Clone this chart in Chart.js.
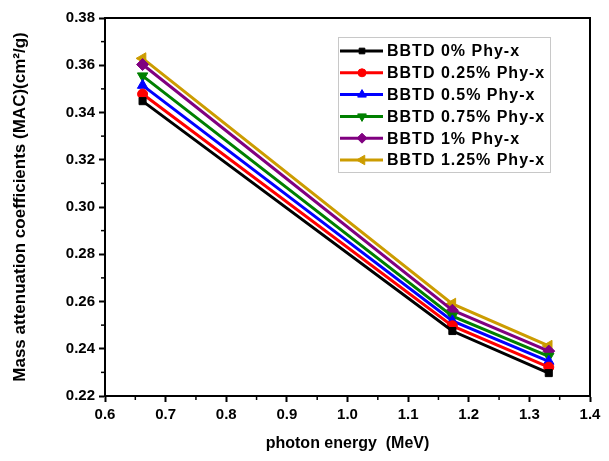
<!DOCTYPE html>
<html>
<head>
<meta charset="utf-8">
<script src="https://cdn.jsdelivr.net/npm/chart.js@4/dist/chart.umd.min.js"></script>
<style>
  html, body { margin: 0; padding: 0; background: #fff; }
  #wrap { width: 609px; height: 461px; }
</style>
</head>
<body>
<div id="wrap"><canvas id="macChart" width="609" height="461"></canvas></div>
<script>
const energies = [0.662, 1.173, 1.332];
const labels = ["BBTD 0% Phy-x", "BBTD 0.25% Phy-x", "BBTD 0.5% Phy-x", "BBTD 0.75% Phy-x", "BBTD 1% Phy-x", "BBTD 1.25% Phy-x"];
const mac0 = [0.3448, 0.2475, 0.2297];
const mac025 = [0.3478, 0.2497, 0.2322];
const mac05 = [0.3515, 0.2518, 0.2347];
const mac075 = [0.3555, 0.2538, 0.2368];
const mac1 = [0.3603, 0.2563, 0.2390];
const mac125 = [0.3629, 0.2590, 0.2412];
const xTicks = [0.6, 0.7, 0.8, 0.9, 1.0, 1.1, 1.2, 1.3, 1.4];
const yTicks = [0.22, 0.24, 0.26, 0.28, 0.30, 0.32, 0.34, 0.36, 0.38];

const colors = ["#000000", "#ff0000", "#0000ff", "#008000", "#800080", "#cc9c00"];
const styles = ["rect", "circle", "triangle", "triangle", "rectRot", "triangle"];
const rotations = [0, 0, 0, 180, 0, -90];
const radii = [5, 5, 6, 6, 6, 6.5];
const series = [mac0, mac025, mac05, mac075, mac1, mac125];

const FONT = "'Liberation Sans', Arial, sans-serif";

const datasets = series.map((vals, i) => ({
  label: labels[i],
  data: vals.map((v, j) => ({ x: energies[j], y: v })),
  borderColor: colors[i],
  backgroundColor: colors[i],
  borderWidth: 3,
  pointStyle: styles[i],
  pointRotation: rotations[i],
  pointRadius: radii[i],
  pointBorderWidth: 1,
  tension: 0,
}));

// frame around plot, minor ticks, and line+marker legend
const framePlugin = {
  id: "frame",
  afterDraw(chart) {
    const { ctx, chartArea: a, scales } = chart;
    ctx.save();
    ctx.strokeStyle = "#000";
    ctx.lineWidth = 2;
    ctx.strokeRect(a.left, a.top, a.right - a.left, a.bottom - a.top);
    ctx.lineWidth = 1.5;
    for (let i = 0; i < xTicks.length - 1; i++) {
      const px = scales.x.getPixelForValue((xTicks[i] + xTicks[i + 1]) / 2);
      ctx.beginPath(); ctx.moveTo(px, a.bottom); ctx.lineTo(px, a.bottom + 4); ctx.stroke();
    }
    for (let i = 0; i < yTicks.length - 1; i++) {
      const py = scales.y.getPixelForValue((yTicks[i] + yTicks[i + 1]) / 2);
      ctx.beginPath(); ctx.moveTo(a.left, py); ctx.lineTo(a.left - 4, py); ctx.stroke();
    }

    // legend
    const lx = 338, ly = 37, lw = 212, lh = 135, rowH = 21.8;
    ctx.strokeStyle = "#c8c8c8";
    ctx.lineWidth = 1;
    ctx.strokeRect(lx + 0.5, ly + 0.5, lw, lh);
    ctx.font = "bold 16px " + FONT;
    ctx.letterSpacing = "1px";
    ctx.textBaseline = "middle";
    chart.data.datasets.forEach((ds, i) => {
      const y = ly + 14 + i * rowH;
      ctx.strokeStyle = ds.borderColor;
      ctx.lineWidth = 3;
      ctx.beginPath(); ctx.moveTo(lx + 2, y); ctx.lineTo(lx + 45, y); ctx.stroke();
      ctx.fillStyle = ds.backgroundColor;
      ctx.lineWidth = 1;
      Chart.helpers.drawPoint(ctx, {
        pointStyle: ds.pointStyle, rotation: ds.pointRotation, radius: ds.pointRadius - 1, borderWidth: 1,
      }, lx + 24, y);
      ctx.fillStyle = "#000";
      ctx.fillText(ds.label, lx + 49, y + 1);
    });
    ctx.letterSpacing = "0px";
    ctx.restore();
  },
};

new Chart(document.getElementById("macChart"), {
  type: "line",
  data: { datasets },
  options: {
    responsive: false,
    animation: false,
    layout: { padding: { left: 0, top: 18, right: 19, bottom: 0 } },
    plugins: { legend: { display: false }, tooltip: { enabled: false } },
    scales: {
      x: {
        type: "linear",
        min: 0.6,
        max: 1.4,
        afterBuildTicks: (s) => { s.ticks = xTicks.map((v) => ({ value: v })); },
        afterFit: (s) => { s.height = 65; },
        grid: { drawOnChartArea: false, drawTicks: true, tickLength: 6, tickWidth: 2, tickColor: "#000" },
        border: { color: "#000", width: 2 },
        ticks: {
          color: "#000",
          font: { family: FONT, size: 15, weight: "bold" },
          padding: 4,
          maxRotation: 0,
          callback: (v) => v.toFixed(1),
        },
        title: {
          display: true,
          text: "photon energy  (MeV)",
          color: "#000",
          font: { family: FONT, size: 16, weight: "bold" },
          padding: { top: 4, bottom: 8 },
        },
      },
      y: {
        min: 0.22,
        max: 0.38,
        afterBuildTicks: (s) => { s.ticks = yTicks.map((v) => ({ value: v })); },
        afterFit: (s) => { s.width = 105; },
        grid: { drawOnChartArea: false, drawTicks: true, tickLength: 6, tickWidth: 2, tickColor: "#000" },
        border: { color: "#000", width: 2 },
        ticks: {
          color: "#000",
          font: { family: FONT, size: 15, weight: "bold" },
          padding: 4,
          callback: (v) => v.toFixed(2),
        },
        title: {
          display: true,
          text: "Mass attenuation coefficients (MAC)(cm²/g)",
          color: "#000",
          font: { family: FONT, size: 17, weight: "bold" },
          padding: { top: 10, bottom: 4 },
        },
      },
    },
  },
  plugins: [framePlugin],
});
</script>
</body>
</html>
